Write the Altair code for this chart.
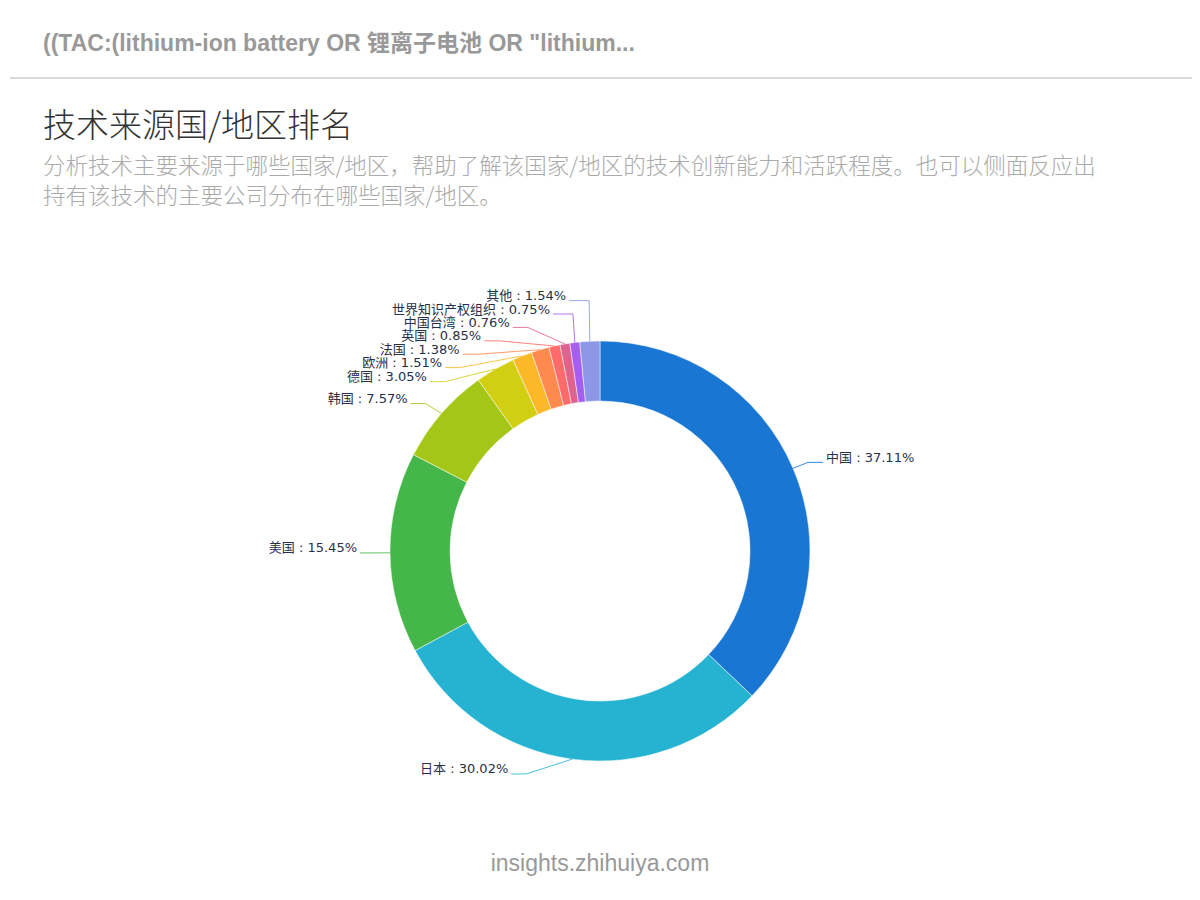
import math
import altair as alt
import pandas as pd

# ---------------- data ----------------
names = ["中国", "日本", "美国", "韩国", "德国", "欧洲", "法国", "英国",
         "中国台湾", "世界知识产权组织", "其他"]
shares = [37.11, 30.02, 15.45, 7.57, 3.05, 1.51, 1.38, 0.85, 0.76, 0.75, 1.54]
colors = ["#1976D2", "#26B3D1", "#45B649", "#A3C617", "#D2CF13", "#FBB829",
          "#FF8A50", "#FF6B6B", "#E0628F", "#A65EF0", "#8C97E8"]

header = '((TAC:(lithium-ion battery OR 锂离子电池 OR "lithium...'
title = "技术来源国/地区排名"
subtitle_lines = [
    "分析技术主要来源于哪些国家/地区，帮助了解该国家/地区的技术创新能力和活跃程度。也可以侧面反应出",
    "持有该技术的主要公司分布在哪些国家/地区。",
]
footer = "insights.zhihuiya.com"

# ---------------- layout constants (page coords minus OFF) ----------------
OFF = 8
W, H = 1192 - OFF, 888 - OFF
CX, CY = 600 - OFF, 551 - OFF
R_IN, R_OUT = 150, 210
LEN1, LEN2, GAP = 15, 15, 5
LINE_H = 13.4
LABEL_FONT = "DejaVu Sans, Noto Sans CJK SC, sans-serif"


def adjust_side(lst, d):
    """ECharts-4 style pie label overlap avoidance for one side."""
    n = len(lst)

    def shift_up(end, delta):
        for j in range(end, -1, -1):
            if lst[j]["y"] - delta < 0:
                break
            lst[j]["y"] -= delta
            if j > 0 and lst[j]["y"] > lst[j - 1]["y"] + LINE_H:
                break

    def shift_down(start, end, delta):
        for j in range(start, end):
            if lst[j]["y"] + delta > H:
                break
            lst[j]["y"] += delta
            if j > start and j + 1 < end and lst[j + 1]["y"] > lst[j]["y"] + LINE_H:
                shift_up(j, delta / 2)
                return
        shift_up(end - 1, delta / 2)

    last = 0.0
    for i in range(n):
        delta = lst[i]["y"] - last
        if delta < 0:
            shift_down(i, n, -delta)
        last = lst[i]["y"] + LINE_H
    if H - last < 0 and n:
        shift_up(n - 1, last - H)

    up = [t for t in lst if t["y"] < CY]
    down = [t for t in lst if t["y"] >= CY]

    def change_x(sub, is_down):
        last_dx = float("inf") if is_down else 0.0
        for t in sub:
            dy = abs(t["y"] - CY)
            if dy < R_OUT + LEN1:
                ddx = math.sqrt((R_OUT + LEN1 + LEN2) ** 2 - dy * dy)
                t["moved"] = True
            else:
                ddx = abs(t["x"] - CX)
            if is_down and ddx >= last_dx:
                ddx = last_dx - 10
                t["moved"] = True
            if (not is_down) and ddx <= last_dx:
                ddx = last_dx + 10
                t["moved"] = True
            t["x"] = CX + ddx * d
            last_dx = ddx

    change_x(up, False)
    change_x(down, True)


def layout_labels():
    total = sum(shares)
    items = []
    cum = 0.0
    for n, v in zip(names, shares):
        a0 = cum / total * 2 * math.pi
        cum += v
        a1 = cum / total * 2 * math.pi
        mid = (a0 + a1) / 2
        dx, dy = math.sin(mid), -math.cos(mid)
        d = 1 if dx >= 0 else -1
        x2 = CX + (R_OUT + LEN1) * dx
        y2 = CY + (R_OUT + LEN1) * dy
        items.append(dict(name=n, value=v, dir=d,
                          x1=CX + R_OUT * dx, y1=CY + R_OUT * dy,
                          x2=x2, y=y2, x=x2 + d * (LEN2 + GAP), moved=False))
    for side in (1, -1):
        lst = sorted([t for t in items if t["dir"] == side], key=lambda t: t["y"])
        adjust_side(lst, side)
    return items


items = layout_labels()
seg_rows, text_rows = [], []
for t in items:
    d = t["dir"]
    ex = t["x"] - d * LEN2 if t["moved"] else t["x2"]
    ey = t["y"]
    seg_rows.append(dict(name=t["name"], x=t["x1"], y=t["y1"], x2=ex, y2=ey))
    seg_rows.append(dict(name=t["name"], x=ex, y=ey, x2=t["x"], y2=ey))
    text_rows.append(dict(name=t["name"], label=f"{t['name']} : {t['value']:.2f}%",
                          tx=t["x"] + d * 3, ty=ey - 4.5,
                          side="right" if d > 0 else "left"))

seg_df = pd.DataFrame(seg_rows)
text_df = pd.DataFrame(text_rows)
pie_df = pd.DataFrame({"name": names, "share": shares, "idx": list(range(len(names)))})

color_scale = alt.Scale(domain=names, range=colors)

# ---------------- chart layers ----------------
arcs = alt.Chart(pie_df).mark_arc(
    innerRadius=R_IN, outerRadius=R_OUT, stroke="white", strokeWidth=0.5
).encode(
    theta=alt.Theta("share:Q", stack=True),
    order=alt.Order("idx:Q"),
    color=alt.Color("name:N", scale=color_scale, legend=None),
    x=alt.value(CX),
    y=alt.value(CY),
)

rules = alt.Chart(seg_df).mark_rule(strokeWidth=1, opacity=0.85).encode(
    x=alt.X("x:Q", scale=None, axis=None),
    y=alt.Y("y:Q", scale=None, axis=None),
    x2="x2:Q",
    y2="y2:Q",
    color=alt.Color("name:N", scale=color_scale, legend=None),
)

labels_right = alt.Chart(text_df).transform_filter(alt.datum.side == "right").mark_text(
    align="left", baseline="middle", font=LABEL_FONT, fontSize=13, color="#27304a"
).encode(
    x=alt.X("tx:Q", scale=None, axis=None),
    y=alt.Y("ty:Q", scale=None, axis=None),
    text="label:N",
)

labels_left = alt.Chart(text_df).transform_filter(alt.datum.side == "left").mark_text(
    align="right", baseline="middle", font=LABEL_FONT, fontSize=13, color="#27304a"
).encode(
    x=alt.X("tx:Q", scale=None, axis=None),
    y=alt.Y("ty:Q", scale=None, axis=None),
    text="label:N",
)


def note(text, x, y, size, color, font, weight="normal", align="left"):
    return alt.Chart(pd.DataFrame({"t": [text]})).mark_text(
        align=align, baseline="middle", fontSize=size, color=color,
        font=font, fontWeight=weight
    ).encode(x=alt.value(x - OFF), y=alt.value(y - OFF), text="t:N")


header_t = note(header, 43, 44, 23, "#999999",
                "Liberation Sans, Arial, Noto Sans CJK SC", weight="bold")
sep = alt.Chart(pd.DataFrame({"a": [0]})).mark_rule(color="#cccccc", strokeWidth=1.5).encode(
    x=alt.value(0), x2=alt.value(W), y=alt.value(78 - OFF)
)
title_t = note(title, 43, 127, 33, "#333333", "Noto Sans CJK SC", weight=300)
sub1 = note(subtitle_lines[0], 43, 167, 22.5, "#aaaaaa", "Noto Sans CJK SC", weight=300)
sub2 = note(subtitle_lines[1], 43, 197, 22.5, "#aaaaaa", "Noto Sans CJK SC", weight=300)
footer_t = note(footer, 600, 864, 23, "#999999", "Liberation Sans, Arial", align="center")

# white edges drawn last, hiding the faint frame at the view's top/left edges
edge_df = pd.DataFrame({"a": [0]})
edge_top = alt.Chart(edge_df).mark_rule(color="white", strokeWidth=4).encode(
    x=alt.value(0), x2=alt.value(W), y=alt.value(0)
)
edge_left = alt.Chart(edge_df).mark_rule(color="white", strokeWidth=4).encode(
    x=alt.value(0), y=alt.value(0), y2=alt.value(H)
)

chart = alt.layer(
    header_t, sep, title_t, sub1, sub2, arcs, rules, labels_left, labels_right, footer_t,
    edge_top, edge_left
).properties(
    width=W, height=H,
    autosize=alt.AutoSizeParams(type="none"),
    padding=0,
).configure_view(
    strokeWidth=0, stroke="transparent", strokeOpacity=0
).configure_axis(
    grid=False, domain=False, ticks=False, labels=False, title=None
).configure(background="white")

chart.save("out.html", embed_options={"renderer": "svg", "actions": False})
